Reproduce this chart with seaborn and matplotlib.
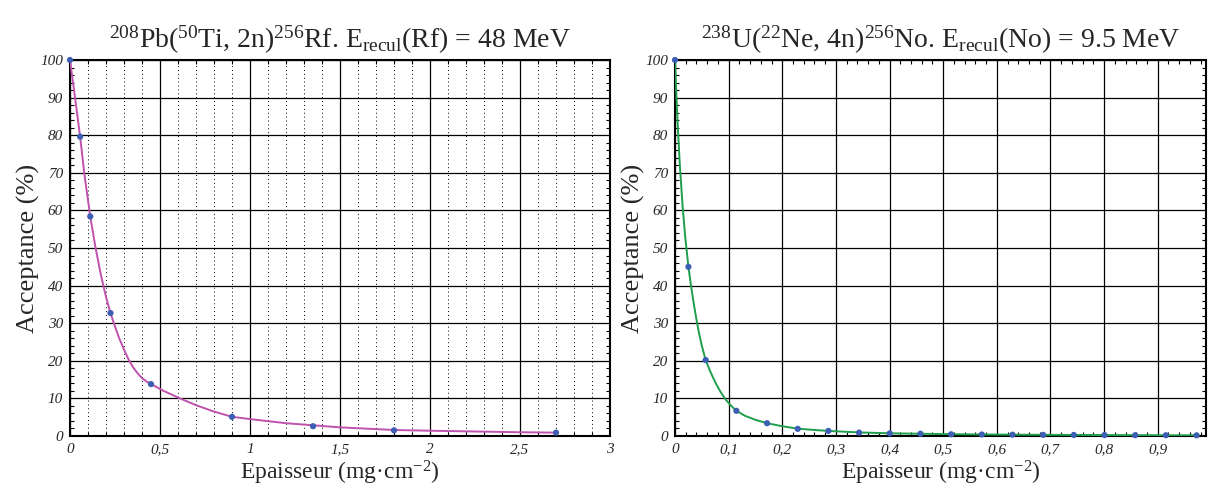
import numpy as np
import pandas as pd
import matplotlib
matplotlib.use("Agg")
import matplotlib.pyplot as plt
from matplotlib.ticker import MultipleLocator, FuncFormatter
import seaborn as sns

# Rf : 208Pb(50Ti,2n)256Rf - points mesures
rf_epaisseur = [0.0, 0.0563, 0.1125, 0.225, 0.45, 0.9, 1.35, 1.8, 2.7]
rf_acceptance = [100.0, 79.6, 58.4, 32.7, 13.8, 5.1, 2.6, 1.5, 0.9]
# courbe
rf_courbe_x = [0.0, 0.028, 0.0563, 0.08, 0.1125, 0.14, 0.17, 0.2, 0.225, 0.25, 0.275,
               0.3, 0.325, 0.35, 0.375, 0.4, 0.425, 0.45, 0.52, 0.611, 0.7, 0.8, 0.9,
               1.0, 1.2, 1.5, 1.8, 2.0, 2.5, 2.7]
rf_courbe_y = [100.0, 90.0, 79.6, 69.6, 58.4, 50.6, 43.2, 37.0, 32.7, 29.1, 25.8,
               23.0, 20.4, 18.3, 16.7, 15.4, 14.5, 13.8, 12.0, 10.0, 8.2, 6.5, 5.1,
               4.5, 3.4, 2.3, 1.6, 1.4, 1.0, 0.9]

# No : 238U(22Ne,4n)256No - points mesures
no_epaisseur = [0.0, 0.025, 0.0572, 0.1144, 0.1716, 0.2288, 0.286, 0.3432, 0.4004,
                0.4576, 0.5148, 0.572, 0.6292, 0.6864, 0.7436, 0.8008, 0.858, 0.9152, 0.9724]
no_acceptance = [100.0, 45.0, 20.2, 6.7, 3.4, 1.9, 1.35, 0.9, 0.7,
                 0.6, 0.45, 0.4, 0.35, 0.3, 0.28, 0.25, 0.22, 0.2, 0.18]
no_courbe_x = [0.0, 0.002, 0.005, 0.009, 0.014, 0.019, 0.025, 0.03, 0.035, 0.04, 0.045,
               0.05, 0.0572, 0.065, 0.075, 0.085, 0.095, 0.105, 0.1144, 0.13, 0.15,
               0.1716, 0.2, 0.2288, 0.26, 0.286, 0.3432, 0.4004, 0.4576, 0.5148, 0.572,
               0.6292, 0.6864, 0.7436, 0.8008, 0.858, 0.9152, 0.9724]
no_courbe_y = [100.0, 92.5, 83.0, 72.0, 61.5, 53.0, 45.0, 39.8, 35.2, 31.0, 27.2,
               24.0, 20.2, 17.4, 14.3, 11.7, 9.6, 8.0, 6.7, 5.4, 4.3,
               3.4, 2.6, 1.95, 1.6, 1.35, 0.95, 0.72, 0.6, 0.48, 0.4,
               0.35, 0.31, 0.28, 0.25, 0.22, 0.2, 0.18]

titre_rf = r'$^{208}$Pb($^{50}$Ti, 2n)$^{256}$Rf. E$_{\mathrm{recul}}$(Rf) = 48 MeV'
titre_no = r'$^{238}$U($^{22}$Ne, 4n)$^{256}$No. E$_{\mathrm{recul}}$(No) = 9.5 MeV'

sns.set_theme(style="white")
plt.rcParams['font.family'] = ['Liberation Serif', 'DejaVu Serif']
plt.rcParams['mathtext.fontset'] = 'custom'
plt.rcParams['mathtext.rm'] = 'Liberation Serif'
plt.rcParams['mathtext.it'] = 'Liberation Serif:italic'
plt.rcParams['mathtext.bf'] = 'Liberation Serif:bold'

fig = plt.figure(figsize=(12.08, 4.9), dpi=100)
ax1 = fig.add_axes([70 / 1208, 54 / 490, 540 / 1208, 376 / 490])
ax2 = fig.add_axes([675 / 1208, 54 / 490, 531 / 1208, 376 / 490])


def virgule(v, pos):
    s = ('%.1f' % v).rstrip('0').rstrip('.')
    return s.replace('.', ',')


def dessiner(ax, cx, cy, px, py, couleur, titre, xmax, xmaj, xmin, grille_min):
    courbe = pd.DataFrame({'x': cx, 'y': cy})
    pts = pd.DataFrame({'x': px, 'y': py})
    sns.lineplot(data=courbe, x='x', y='y', ax=ax, color=couleur, lw=1.4, sort=False, zorder=3)
    sns.scatterplot(data=pts, x='x', y='y', ax=ax, color='#3d5fb3', s=20,
                    edgecolor='none', zorder=4, clip_on=False)
    ax.set_xlim(0, xmax)
    ax.set_ylim(0, 100)
    ax.xaxis.set_major_locator(MultipleLocator(xmaj))
    ax.xaxis.set_minor_locator(MultipleLocator(xmin))
    ax.yaxis.set_major_locator(MultipleLocator(10))
    ax.yaxis.set_minor_locator(MultipleLocator(2))
    ax.xaxis.set_major_formatter(FuncFormatter(virgule))
    ax.grid(True, which='major', color='black', lw=0.9)
    if grille_min:
        ax.grid(True, which='minor', axis='x', color='black', lw=0.7, ls=(0, (1, 3)))
    ax.tick_params(which='both', direction='in', top=True, right=True,
                   bottom=True, left=True, color='black')
    ax.tick_params(which='major', length=0, labelsize=11, pad=5)
    ax.tick_params(which='minor', length=3, width=0.8)
    for lab in ax.get_xticklabels() + ax.get_yticklabels():
        lab.set_fontstyle('italic')
    for sp in ax.spines.values():
        sp.set_color('black')
        sp.set_linewidth(1.5)
    ax.set_title(titre, fontsize=20, pad=9)
    ax.set_xlabel('Epaisseur (mg\u00b7cm$^{\\mathrm{-2}}$)', fontsize=17, labelpad=2)
    ax.set_ylabel('Acceptance (%)', fontsize=19, labelpad=0)


dessiner(ax1, rf_courbe_x, rf_courbe_y, rf_epaisseur, rf_acceptance,
         '#bf52ad', titre_rf, 3, 0.5, 0.1, True)
dessiner(ax2, no_courbe_x, no_courbe_y, no_epaisseur, no_acceptance,
         '#1f9e4c', titre_no, 0.99, 0.1, 0.02, False)

fig.savefig('out.png', dpi=100)
